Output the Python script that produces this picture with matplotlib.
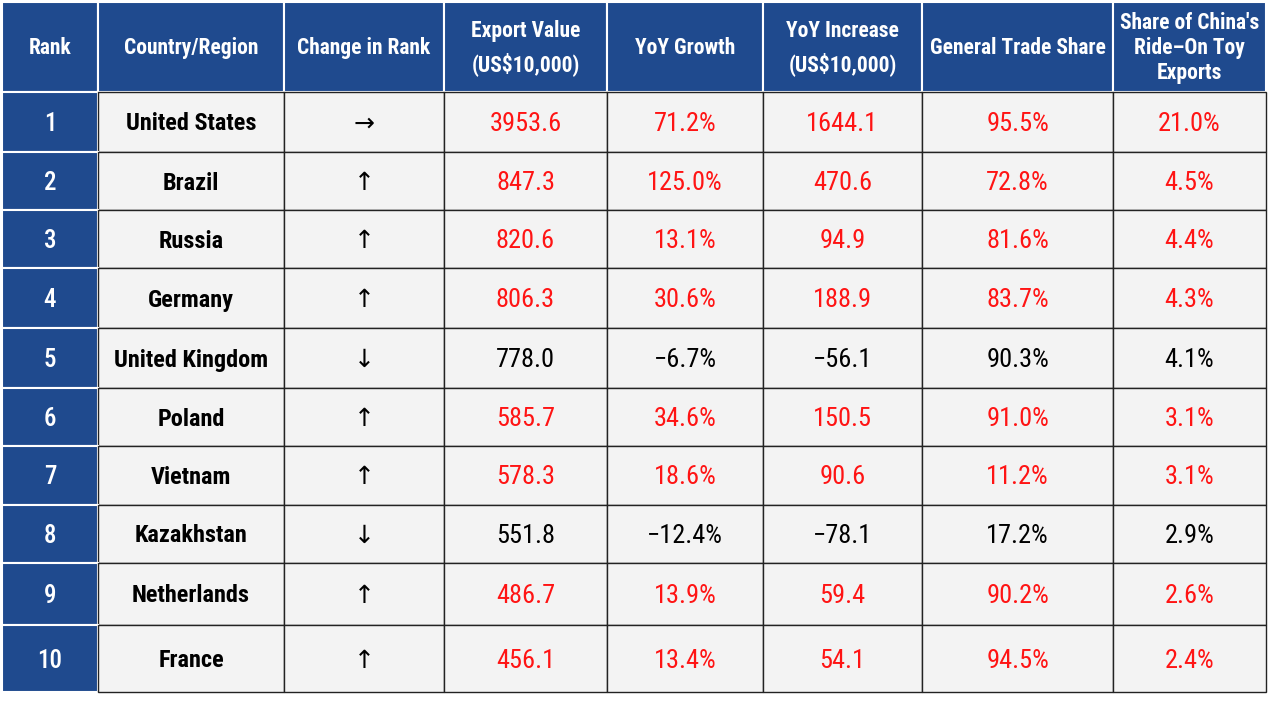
import matplotlib.pyplot as plt
from matplotlib.patches import Rectangle
from matplotlib import font_manager

# Table data
headers = ["Rank", "Country/Region", "Change in Rank", "Export Value\n(US$10,000)",
           "YoY Growth", "YoY Increase\n(US$10,000)", "General Trade Share",
           "Share of China's\nRide\u2013On Toy\nExports"]
ranks = ["1", "2", "3", "4", "5", "6", "7", "8", "9", "10"]
countries = ["United States", "Brazil", "Russia", "Germany", "United Kingdom",
             "Poland", "Vietnam", "Kazakhstan", "Netherlands", "France"]
changes = ["\u2192", "\u2191", "\u2191", "\u2191", "\u2193", "\u2191", "\u2191", "\u2193", "\u2191", "\u2191"]
export_value = [3953.6, 847.3, 820.6, 806.3, 778.0, 585.7, 578.3, 551.8, 486.7, 456.1]
yoy_growth = [71.2, 125.0, 13.1, 30.6, -6.7, 34.6, 18.6, -12.4, 13.9, 13.4]
yoy_increase = [1644.1, 470.6, 94.9, 188.9, -56.1, 150.5, 90.6, -78.1, 59.4, 54.1]
trade_share = [95.5, 72.8, 81.6, 83.7, 90.3, 91.0, 11.2, 17.2, 90.2, 94.5]
china_share = [21.0, 4.5, 4.4, 4.3, 4.1, 3.1, 3.1, 2.9, 2.6, 2.4]

# Layout (pixel grid)
col_edges = [2, 98, 284, 444, 607, 763, 922, 1113, 1266]
row_edges = [2, 92, 152, 210, 268, 328, 388, 446, 505, 563, 625, 692]

installed = {f.name for f in font_manager.fontManager.ttflist}
fam = [f for f in ["Roboto Condensed", "Liberation Sans Narrow", "Liberation Sans"] if f in installed]
fam = fam + ["DejaVu Sans"]

BLUE = "#1f4a8e"
CELL = "#f3f3f3"
RED = "#ff1414"

fig = plt.figure(figsize=(12.68, 7.14), dpi=100)
ax = fig.add_axes([0, 0, 1, 1])
ax.set_xlim(0, 1268)
ax.set_ylim(714, 0)
ax.axis("off")


def fmt_num(v):
    return f"{v:.1f}".replace("-", "\u2212")


def fmt_pct(v):
    return fmt_num(v) + "%"


# header row
for j, h in enumerate(headers):
    x0, x1 = col_edges[j], col_edges[j + 1]
    y0, y1 = row_edges[0], row_edges[1]
    ax.add_patch(Rectangle((x0, y0), x1 - x0, y1 - y0, facecolor=BLUE,
                           edgecolor="white", linewidth=1.5))
    nlines = h.count("\n") + 1
    ls = 1.5 if nlines == 2 else 1.2
    ax.text((x0 + x1) / 2, (y0 + y1) / 2 + 1, h, color="white", ha="center", va="center",
            fontsize=15.5, fontweight="bold", family=fam, linespacing=ls)

# body rows
for i in range(len(ranks)):
    y0, y1 = row_edges[i + 1], row_edges[i + 2]
    yc = (y0 + y1) / 2 + 2
    positive = yoy_growth[i] >= 0
    vcol = RED if positive else "black"
    # rank cell
    ax.add_patch(Rectangle((col_edges[0], y0), col_edges[1] - col_edges[0], y1 - y0,
                           facecolor=BLUE, edgecolor="white", linewidth=1.5))
    ax.text((col_edges[0] + col_edges[1]) / 2, yc, ranks[i], color="white",
            ha="center", va="center", fontsize=18, fontweight="medium", family=fam)
    vals = [countries[i], changes[i], fmt_num(export_value[i]), fmt_pct(yoy_growth[i]),
            fmt_num(yoy_increase[i]), fmt_pct(trade_share[i]), fmt_pct(china_share[i])]
    for k, v in enumerate(vals):
        j = k + 1
        x0, x1 = col_edges[j], col_edges[j + 1]
        ax.add_patch(Rectangle((x0, y0), x1 - x0, y1 - y0, facecolor=CELL,
                               edgecolor="#222222", linewidth=1.0))
        if k == 0:
            ax.text((x0 + x1) / 2, yc, v, color="black", ha="center", va="center",
                    fontsize=17.5, fontweight="bold", family=fam)
        elif k == 1:
            ax.text((x0 + x1) / 2, yc, v, color="black", ha="center", va="center",
                    fontsize=18, family=["DejaVu Sans"])
        else:
            ax.text((x0 + x1) / 2, yc, v, color=vcol, ha="center", va="center",
                    fontsize=19, family=fam)

fig.savefig("out.png", dpi=100, facecolor="white")
